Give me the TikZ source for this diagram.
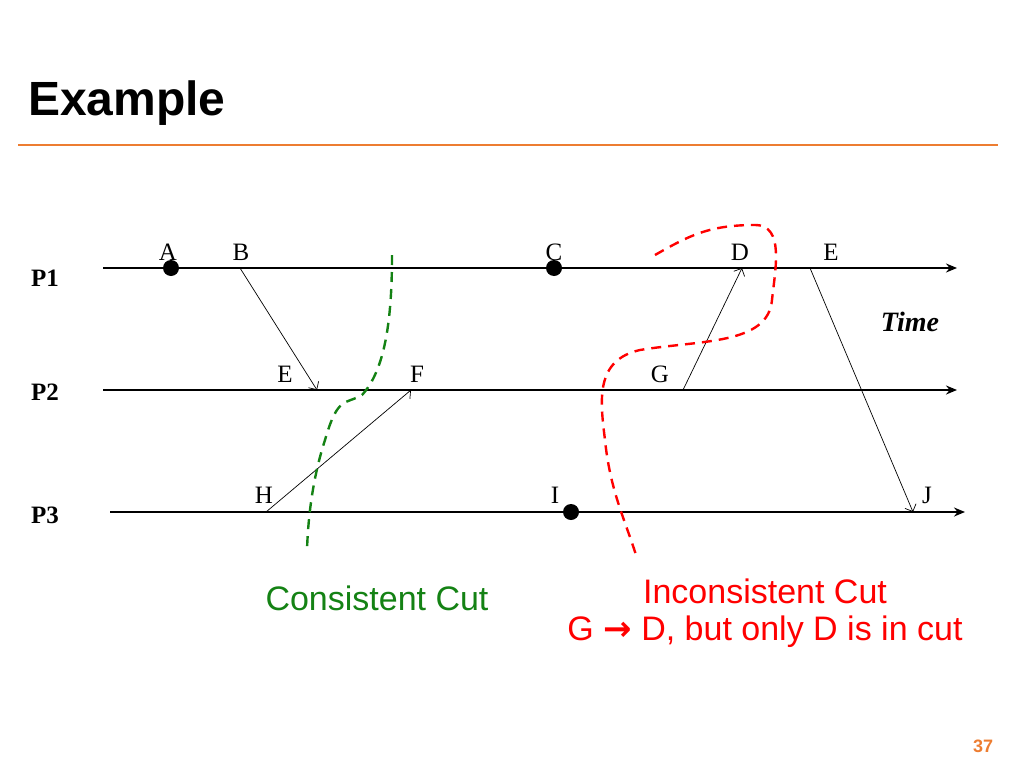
\documentclass[tikz,border=0pt]{standalone}
\usepackage{fontspec}
\setmainfont{Liberation Serif}
\newfontfamily\sans{Liberation Sans}
\newfontfamily\dv{DejaVu Sans}
\usetikzlibrary{arrows.meta}
\definecolor{orng}{RGB}{237,125,49}
\definecolor{grn}{RGB}{20,130,20}
\begin{document}
\begin{tikzpicture}[x=1pt,y=-1pt,
  tl/.style={line width=2.2pt,-{Stealth[length=11pt,width=9pt]}},
  msg/.style={line width=0.7pt,-{Straight Barb[length=6pt]}},
  lab/.style={font=\fontsize{25}{25}\selectfont,inner sep=0pt},
  plab/.style={font=\fontsize{25}{25}\selectfont\bfseries,inner sep=0pt},
  dot/.style={circle,fill=black,inner sep=0pt,minimum size=16pt},
  cut/.style={line width=2.4pt,dash pattern=on 10pt off 7pt}]
\useasboundingbox (0,0) rectangle (1024,768);
\node[font=\fontsize{48}{48}\selectfont\sans\bfseries,anchor=west,inner sep=0pt] (title) at (28,103) {Example};
\draw[orng,line width=2.2pt] (18,145) -- (998,145);
\coordinate (p1s) at (103,268); \coordinate (p1e) at (957,268);
\coordinate (p2s) at (103,390); \coordinate (p2e) at (957,390);
\coordinate (p3s) at (110,512); \coordinate (p3e) at (965,512);
\draw[tl] (p1s) -- (p1e); \draw[tl] (p2s) -- (p2e); \draw[tl] (p3s) -- (p3e);
\node[plab] (P1) at (45,278) {P1};
\node[plab] (P2) at (45,392) {P2};
\node[plab] (P3) at (45,515) {P3};
\node[dot] (dA) at (171,268) {}; \node[dot] (dC) at (554,268) {}; \node[dot] (dI) at (571,512) {};
\node[lab] at (168,252) {A}; \node[lab] at (241,252) {B}; \node[lab] at (554,252) {C};
\node[lab] at (740,252) {D}; \node[lab] at (831,252) {E};
\node[lab] at (285,374) {E}; \node[lab] at (417,374) {F}; \node[lab] at (660,374) {G};
\node[lab] at (264,495) {H}; \node[lab] at (555,495) {I}; \node[lab] at (927,495) {J};
\coordinate (B) at (240,268); \coordinate (E2) at (317,390);
\coordinate (H) at (266,512); \coordinate (F) at (411,390);
\coordinate (G) at (683,390); \coordinate (D) at (742,268);
\coordinate (E1) at (810,268); \coordinate (J) at (913,512);
\draw[msg] (B) -- (E2); \draw[msg] (H) -- (F); \draw[msg] (G) -- (D); \draw[msg] (E1) -- (J);
\node[font=\fontsize{28}{28}\selectfont\bfseries\itshape,inner sep=0pt] (time) at (910,322) {Time};
\draw[cut,grn] (392,255) .. controls (392,320) and (385,370) .. (362,395)
  .. controls (345,405) and (338,395) .. (325,440)
  .. controls (312,480) and (308,520) .. (307,550);
\draw[cut,red] (655,255) .. controls (690,235) and (710,225) .. (755,225)
  .. controls (785,225) and (775,270) .. (772,300)
  .. controls (768,345) and (700,340) .. (640,350)
  .. controls (595,360) and (600,400) .. (605,440)
  .. controls (610,490) and (625,520) .. (636,555);
\node[lab,font=\fontsize{34}{34}\selectfont\sans,text=grn] (cc) at (377,598) {Consistent Cut};
\node[lab,font=\fontsize{34}{34}\selectfont\sans,text=red] (ic) at (765,591) {Inconsistent Cut};
\node[lab,font=\fontsize{34}{34}\selectfont\sans,text=red] (ic2) at (765,632) {G {\dv\bfseries→} D, but only D is in cut};
\node[lab,font=\fontsize{18}{18}\selectfont\sans\bfseries,text=orng] (pg) at (983,746) {37};
\end{tikzpicture}
\end{document}
